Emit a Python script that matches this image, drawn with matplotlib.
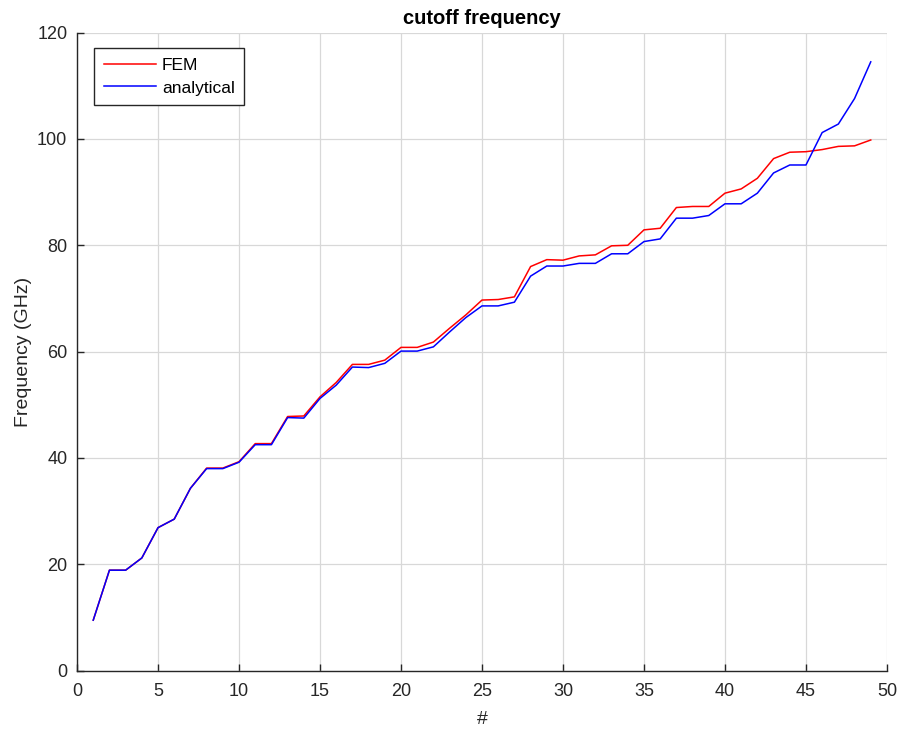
import matplotlib
matplotlib.use("Agg")
import matplotlib.pyplot as plt

plt.rcParams['font.family'] = ['Liberation Sans', 'DejaVu Sans']

mode_index = list(range(1, 50))
fem = [9.5, 18.9, 18.9, 21.2, 26.9, 28.5, 34.3, 38.1, 38.1, 39.3,
       42.7, 42.7, 47.8, 47.9, 51.5, 54.2, 57.6, 57.6, 58.4, 60.8,
       60.8, 61.8, 64.4, 66.9, 69.7, 69.8, 70.3, 76.0, 77.3, 77.2,
       78.0, 78.2, 79.9, 80.0, 82.9, 83.2, 87.1, 87.3, 87.3, 89.8,
       90.6, 92.6, 96.3, 97.5, 97.6, 98.0, 98.6, 98.7, 99.8]
analytical = [9.5, 18.9, 18.9, 21.2, 26.9, 28.5, 34.3, 38.0, 38.0, 39.2,
              42.5, 42.5, 47.6, 47.5, 51.2, 53.7, 57.1, 57.0, 57.8, 60.1,
              60.1, 60.9, 63.7, 66.4, 68.6, 68.6, 69.3, 74.2, 76.1, 76.1,
              76.6, 76.6, 78.4, 78.4, 80.7, 81.2, 85.1, 85.1, 85.6, 87.8,
              87.8, 89.8, 93.6, 95.1, 95.1, 101.2, 102.8, 107.6, 114.5]

xticks = list(range(0, 51, 5))
yticks = list(range(0, 121, 20))

fig = plt.figure(figsize=(8.99, 7.29), dpi=100)
ax = fig.add_axes([0.0857, 0.080, 0.9009, 0.8753])

ax.plot(mode_index, fem, color=(1, 0, 0), lw=1.1, label='FEM')
ax.plot(mode_index, analytical, color=(0, 0, 1), lw=1.1, label='analytical')

ax.set_xlim(0, 50)
ax.set_ylim(0, 120)
ax.set_xticks(xticks)
ax.set_yticks(yticks)
ax.grid(True, color='#d8d8d8', lw=0.9)
ax.set_axisbelow(True)

dark = '#262626'
for s in ['top', 'right']:
    ax.spines[s].set_visible(False)
for s in ['left', 'bottom']:
    ax.spines[s].set_color(dark)
    ax.spines[s].set_linewidth(1.0)
ax.tick_params(direction='in', length=5, width=1.0, colors=dark, labelsize=13)
ax.tick_params(axis='x', pad=9)
ax.tick_params(axis='y', pad=7)

ax.set_title('cutoff frequency', fontsize=14.5, fontweight='bold', color='black', pad=6)
ax.set_xlabel('#', fontsize=14, color=dark, labelpad=8)
ax.set_ylabel('Frequency (GHz)', fontsize=14, color=dark, labelpad=4)

leg = ax.legend(loc='upper left', bbox_to_anchor=(0.021, 0.976), borderaxespad=0,
                fontsize=12.5, fancybox=False, framealpha=1, edgecolor=dark,
                handlelength=3.0, handletextpad=0.35, borderpad=0.55,
                labelspacing=0.45)
leg.get_frame().set_linewidth(1.0)

fig.savefig('out.png', dpi=100)
